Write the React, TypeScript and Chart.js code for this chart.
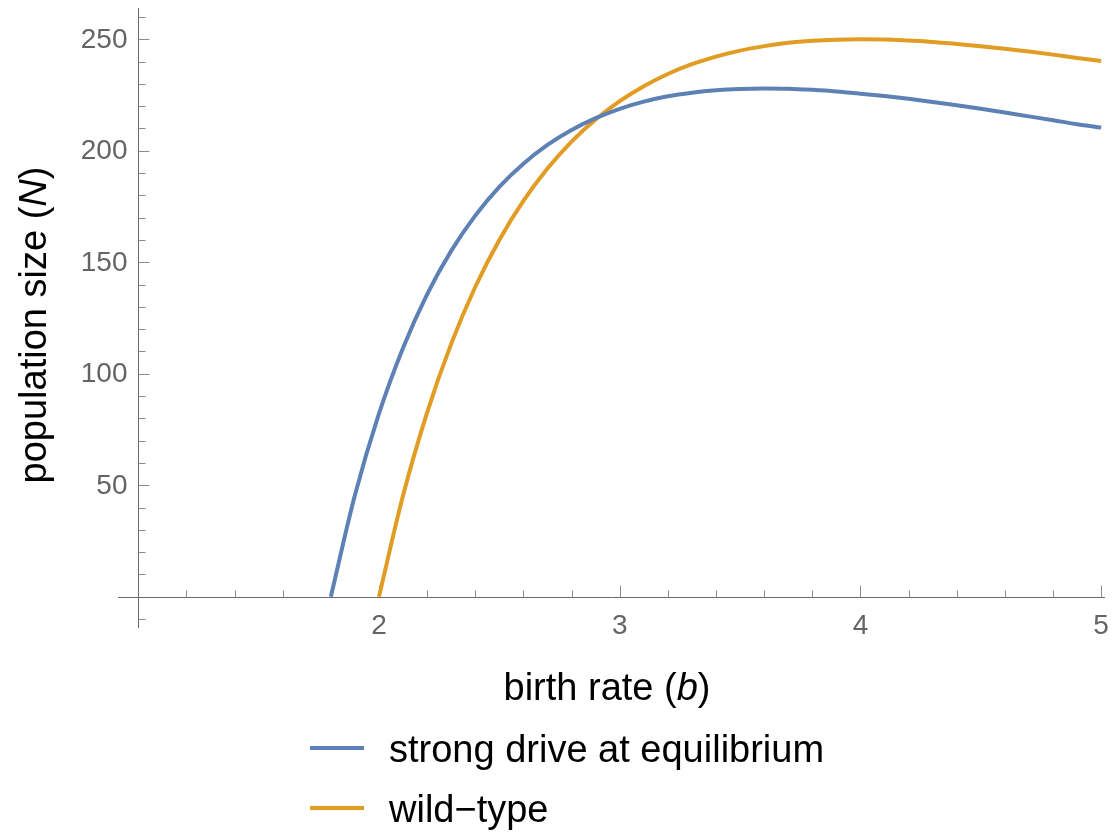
import React, { useEffect, useRef } from "react";
import { Chart, registerables } from "chart.js";

Chart.register(...registerables);

// ---- data ----
const birthRateDrive = [
  1.8, 1.9, 2.0, 2.1, 2.2, 2.3, 2.4, 2.5, 2.6, 2.7, 2.8, 2.9, 3.0, 3.1, 3.2, 3.3, 3.4,
  3.5, 3.6, 3.7, 3.8, 3.9, 4.0, 4.1, 4.2, 4.3, 4.4, 4.5, 4.6, 4.7, 4.8, 4.9, 5.0,
];
const populationDrive = [
  0, 45.5, 82.1, 111.6, 135.6, 155.1, 170.9, 183.8, 194.2, 202.6, 209.3, 214.6, 218.8,
  222.0, 224.4, 226.0, 227.1, 227.7, 227.9, 227.8, 227.3, 226.6, 225.6, 224.5, 223.3,
  221.9, 220.4, 218.8, 217.1, 215.4, 213.7, 211.9, 210.4,
];
const birthRateWild = [
  2.0, 2.1, 2.2, 2.3, 2.4, 2.5, 2.6, 2.7, 2.8, 2.9, 3.0, 3.1, 3.2, 3.3, 3.4, 3.5, 3.6,
  3.7, 3.8, 3.9, 4.0, 4.1, 4.2, 4.3, 4.4, 4.5, 4.6, 4.7, 4.8, 4.9, 5.0,
];
const populationWild = [
  0, 45.4, 82.6, 113.4, 138.9, 160.0, 177.5, 192.0, 204.1, 214.0, 222.2, 228.9, 234.4,
  238.8, 242.2, 244.9, 246.9, 248.4, 249.3, 249.8, 250.0, 249.9, 249.4, 248.8, 247.9,
  246.9, 245.7, 244.5, 243.1, 241.6, 240.2,
];

const seriesLabels = ["strong drive at equilibrium", "wild\u2212type"];
const seriesColors = ["#5E81B5", "#E19C24"];

const xMajorTicks = [2, 3, 4, 5];
const xMinorTicks = [1.2, 1.4, 1.6, 1.8, 2.2, 2.4, 2.6, 2.8, 3.2, 3.4, 3.6, 3.8, 4.2, 4.4, 4.6, 4.8];
const yMajorTicks = [50, 100, 150, 200, 250];
const yMinorTicks = [
  -10, 10, 20, 30, 40, 60, 70, 80, 90, 110, 120, 130, 140, 160, 170, 180, 190, 210, 220,
  230, 240, 260,
];
const xAxisTitle = ["birth rate (", "b", ")"];
const yAxisTitle = ["population size (", "N", ")"];

const X_MIN = 0.916;
const X_MAX = 5.016;
const Y_MIN = -14;
const Y_MAX = 264;
const AXIS_X = 1; // y axis crosses at b = 1
const AXIS_Y = 0; // x axis crosses at N = 0

const FONT = "'Liberation Sans', Arial, Helvetica, sans-serif";

function drawMixed(ctx: CanvasRenderingContext2D, parts: string[], size: number, cx: number, baseline: number) {
  const fonts = [`${size}px ${FONT}`, `italic ${size}px ${FONT}`, `${size}px ${FONT}`];
  const widths = parts.map((p, i) => {
    ctx.font = fonts[i];
    return ctx.measureText(p).width;
  });
  const total = widths.reduce((a, b) => a + b, 0);
  let x = cx - total / 2;
  ctx.textAlign = "left";
  ctx.textBaseline = "alphabetic";
  parts.forEach((p, i) => {
    ctx.font = fonts[i];
    ctx.fillText(p, x, baseline);
    x += widths[i];
  });
}

const mmaPlugin = {
  id: "mmaAxes",
  beforeDatasetsDraw(chart: any) {
    const ctx: CanvasRenderingContext2D = chart.ctx;
    const xs = chart.scales.x;
    const ys = chart.scales.y;
    const area = chart.chartArea;
    const x0 = Math.round(xs.getPixelForValue(AXIS_X)) + 0.5;
    const y0 = Math.round(ys.getPixelForValue(AXIS_Y)) + 0.5;
    ctx.save();
    ctx.lineWidth = 1;
    ctx.strokeStyle = "#6a6a6a";
    ctx.beginPath();
    ctx.moveTo(area.left, y0);
    ctx.lineTo(area.right, y0);
    ctx.moveTo(x0, area.top);
    ctx.lineTo(x0, area.bottom);
    ctx.stroke();

    ctx.strokeStyle = "#8c8c8c";
    ctx.beginPath();
    xMajorTicks.forEach((v) => {
      const px = Math.round(xs.getPixelForValue(v)) + 0.5;
      ctx.moveTo(px, y0);
      ctx.lineTo(px, y0 - 12);
    });
    xMinorTicks.forEach((v) => {
      const px = Math.round(xs.getPixelForValue(v)) + 0.5;
      ctx.moveTo(px, y0);
      ctx.lineTo(px, y0 - 7);
    });
    yMajorTicks.forEach((v) => {
      const py = Math.round(ys.getPixelForValue(v)) + 0.5;
      ctx.moveTo(x0, py);
      ctx.lineTo(x0 + 11, py);
    });
    yMinorTicks.forEach((v) => {
      const py = Math.round(ys.getPixelForValue(v)) + 0.5;
      ctx.moveTo(x0, py);
      ctx.lineTo(x0 + 7, py);
    });
    ctx.stroke();

    // tick labels
    ctx.fillStyle = "#646464";
    ctx.font = `28px ${FONT}`;
    ctx.textBaseline = "alphabetic";
    ctx.textAlign = "center";
    xMajorTicks.forEach((v) => {
      ctx.fillText(String(v), xs.getPixelForValue(v), y0 + 36);
    });
    ctx.textAlign = "right";
    yMajorTicks.forEach((v) => {
      ctx.fillText(String(v), x0 - 11, ys.getPixelForValue(v) + 8.5);
    });
    ctx.restore();
  },
  afterDraw(chart: any) {
    const ctx: CanvasRenderingContext2D = chart.ctx;
    ctx.save();
    ctx.fillStyle = "#000000";
    // x axis title
    drawMixed(ctx, xAxisTitle, 38, 607, 700);
    // y axis title (rotated)
    ctx.save();
    ctx.translate(46, 325);
    ctx.rotate(-Math.PI / 2);
    drawMixed(ctx, yAxisTitle, 38, 0, 0);
    ctx.restore();

    // legend
    seriesLabels.forEach((label, i) => {
      const ly = 748 + i * 60;
      ctx.strokeStyle = seriesColors[i];
      ctx.lineWidth = 4;
      ctx.beginPath();
      ctx.moveTo(310, ly);
      ctx.lineTo(364, ly);
      ctx.stroke();
      ctx.fillStyle = "#000000";
      ctx.font = `38px ${FONT}`;
      ctx.textAlign = "left";
      ctx.textBaseline = "alphabetic";
      ctx.fillText(label, 389, ly + 13.5);
    });
    ctx.restore();
  },
};

export default function App() {
  const canvasRef = useRef<HTMLCanvasElement | null>(null);

  useEffect(() => {
    const canvas = canvasRef.current;
    if (!canvas) return;
    const chart = new Chart(canvas, {
      type: "line",
      data: {
        datasets: [
          {
            label: seriesLabels[0],
            data: birthRateDrive.map((b, i) => ({ x: b, y: populationDrive[i] })),
            borderColor: seriesColors[0],
            backgroundColor: seriesColors[0],
            borderWidth: 4,
            pointRadius: 0,
            cubicInterpolationMode: "monotone",
            fill: false,
          },
          {
            label: seriesLabels[1],
            data: birthRateWild.map((b, i) => ({ x: b, y: populationWild[i] })),
            borderColor: seriesColors[1],
            backgroundColor: seriesColors[1],
            borderWidth: 4,
            pointRadius: 0,
            cubicInterpolationMode: "monotone",
            fill: false,
          },
        ],
      },
      options: {
        animation: false,
        responsive: false,
        devicePixelRatio: 1,
        layout: { padding: { left: 118, right: 15, top: 8, bottom: 204 } },
        scales: {
          x: { type: "linear", min: X_MIN, max: X_MAX, display: false },
          y: { type: "linear", min: Y_MIN, max: Y_MAX, display: false },
        },
        plugins: { legend: { display: false }, tooltip: { enabled: false } },
        events: [],
      } as any,
      plugins: [mmaPlugin as any],
    });
    return () => chart.destroy();
  }, []);

  return (
    <div style={{ position: "fixed", left: 0, top: 0, width: 1120, height: 832, background: "#fff" }}>
      <canvas ref={canvasRef} width={1120} height={832} style={{ width: 1120, height: 832, display: "block" }} />
    </div>
  );
}
